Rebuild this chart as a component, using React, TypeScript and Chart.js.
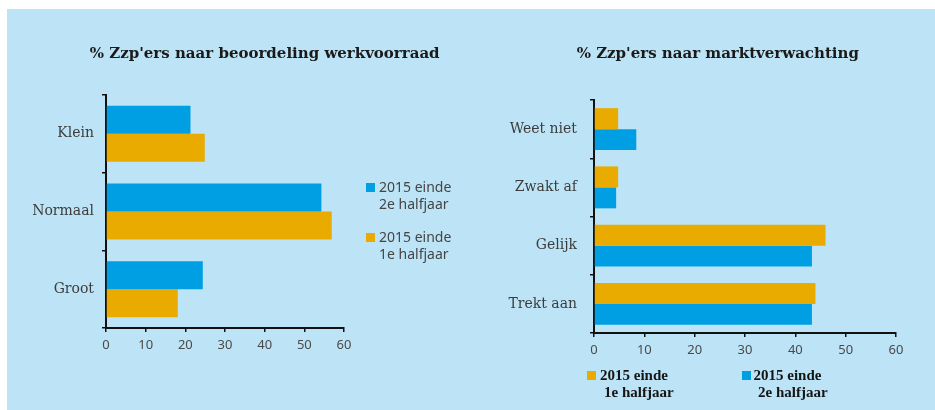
import React, { useEffect, useRef } from "react";
import { Chart, registerables } from "chart.js";
Chart.register(...registerables);

const BLUE = "#009fe3";
const ORANGE = "#e9ab00";
const BG = "#bde4f6";

const leftCategories = ["Klein", "Normaal", "Groot"];
const leftSecondHalf = [21.3, 54.3, 24.4];
const leftFirstHalf = [24.9, 56.9, 18.1];

const rightCategories = ["Weet niet", "Zwakt af", "Gelijk", "Trekt aan"];
const rightFirstHalf = [4.8, 4.8, 46, 44];
const rightSecondHalf = [8.4, 4.4, 43.3, 43.3];

const xMin = 0;
const xMax = 60;
const xStep = 10;

const labelSecond = ["2015 einde", "2e halfjaar"];
const labelFirst = ["2015 einde", "1e halfjaar"];
const titleLeft = "% Zzp'ers naar beoordeling werkvoorraad";
const titleRight = "% Zzp'ers naar marktverwachting";

function makeOptions(pad: any, yWidth: number, yPad: number, xPad: number): any {
  return {
    indexAxis: "y",
    responsive: false,
    maintainAspectRatio: false,
    animation: false,
    devicePixelRatio: 1,
    layout: { padding: pad },
    plugins: {
      legend: { display: false },
      title: { display: false },
      tooltip: { enabled: false },
    },
    datasets: { bar: { categoryPercentage: 0.72, barPercentage: 1 } },
    scales: {
      x: {
        min: xMin,
        max: xMax,
        ticks: {
          stepSize: xStep,
          color: "#4a4a4a",
          font: { family: "Noto Sans", size: 13 },
          padding: xPad,
          maxRotation: 0,
        },
        grid: {
          display: true,
          drawOnChartArea: false,
          drawTicks: true,
          tickLength: 4,
          color: "#111",
          lineWidth: 1.5,
        },
        border: { display: true, color: "#111", width: 2 },
        afterFit: (s: any) => {
          s.height = 30;
        },
      },
      y: {
        ticks: {
          color: "#3c3c3c",
          font: { family: "DejaVu Serif", size: 14 },
          padding: yPad,
        },
        grid: {
          display: true,
          drawOnChartArea: false,
          drawTicks: true,
          tickLength: 4,
          color: "#111",
          lineWidth: 1.5,
        },
        border: { display: true, color: "#111", width: 2 },
        afterFit: (s: any) => {
          s.width = yWidth;
        },
      },
    },
  };
}

function Line({ text, x, cy, size, family, weight, color, align }: any) {
  const lh = Math.round(size * 1.4);
  const style: any = {
    position: "absolute",
    top: cy - lh / 2,
    height: lh,
    lineHeight: lh + "px",
    fontFamily: family,
    fontSize: size,
    fontWeight: weight || "normal",
    color,
    whiteSpace: "nowrap",
  };
  if (align === "center") {
    style.left = x - 300;
    style.width = 600;
    style.textAlign = "center";
  } else {
    style.left = x;
  }
  return <div style={style}>{text}</div>;
}

function Box({ x, y, color }: any) {
  return (
    <div
      style={{
        position: "absolute",
        left: x,
        top: y,
        width: 9,
        height: 9,
        background: color,
      }}
    />
  );
}

export default function App() {
  const leftRef = useRef<HTMLCanvasElement>(null);
  const rightRef = useRef<HTMLCanvasElement>(null);

  useEffect(() => {
    const left = new Chart(leftRef.current as HTMLCanvasElement, {
      type: "bar",
      data: {
        labels: leftCategories,
        datasets: [
          { label: labelSecond.join(" "), data: leftSecondHalf, backgroundColor: BLUE },
          { label: labelFirst.join(" "), data: leftFirstHalf, backgroundColor: ORANGE },
        ],
      },
      options: makeOptions({ top: 95, bottom: 52, left: 0, right: 126 }, 106, 8, 5),
    } as any);
    const right = new Chart(rightRef.current as HTMLCanvasElement, {
      type: "bar",
      data: {
        labels: rightCategories,
        datasets: [
          { label: labelFirst.join(" "), data: rightFirstHalf, backgroundColor: ORANGE },
          { label: labelSecond.join(" "), data: rightSecondHalf, backgroundColor: BLUE },
        ],
      },
      options: makeOptions({ top: 100, bottom: 47, left: 0, right: 39 }, 124, 13, 5),
    } as any);
    return () => {
      left.destroy();
      right.destroy();
    };
  }, []);

  const titleFont = "DejaVu Serif";
  return (
    <div
      style={{
        position: "absolute",
        left: 0,
        top: 0,
        width: 935,
        height: 410,
        background: "#ffffff",
        overflow: "hidden",
      }}
    >
      <div style={{ position: "absolute", left: 7, top: 9, right: 0, bottom: 0, background: BG }} />
      <canvas
        ref={leftRef}
        width={470}
        height={410}
        style={{ position: "absolute", left: 0, top: 0, width: 470, height: 410 }}
      />
      <canvas
        ref={rightRef}
        width={465}
        height={410}
        style={{ position: "absolute", left: 470, top: 0, width: 465, height: 410 }}
      />
      <Line text={titleLeft} x={264.7} cy={53.5} size={15} family={titleFont} weight="bold" color="#1a1a1a" align="center" />
      <Line text={titleRight} x={717.8} cy={53.5} size={15} family={titleFont} weight="bold" color="#1a1a1a" align="center" />

      <Box x={366} y={182.5} color={BLUE} />
      <Line text={labelSecond[0]} x={379} cy={187} size={14} family="Noto Sans" color="#454545" />
      <Line text={labelSecond[1]} x={379} cy={204} size={14} family="Noto Sans" color="#454545" />
      <Box x={366} y={232.5} color={ORANGE} />
      <Line text={labelFirst[0]} x={379} cy={237} size={14} family="Noto Sans" color="#454545" />
      <Line text={labelFirst[1]} x={379} cy={254} size={14} family="Noto Sans" color="#454545" />

      <Box x={587} y={371} color={ORANGE} />
      <Line text={labelFirst[0]} x={600} cy={375.5} size={15} family="Liberation Serif" weight="bold" color="#151515" />
      <Line text={labelFirst[1]} x={604} cy={392.5} size={15} family="Liberation Serif" weight="bold" color="#151515" />
      <Box x={741.5} y={371} color={BLUE} />
      <Line text={labelSecond[0]} x={753.5} cy={375.5} size={15} family="Liberation Serif" weight="bold" color="#151515" />
      <Line text={labelSecond[1]} x={758} cy={392.5} size={15} family="Liberation Serif" weight="bold" color="#151515" />
    </div>
  );
}
